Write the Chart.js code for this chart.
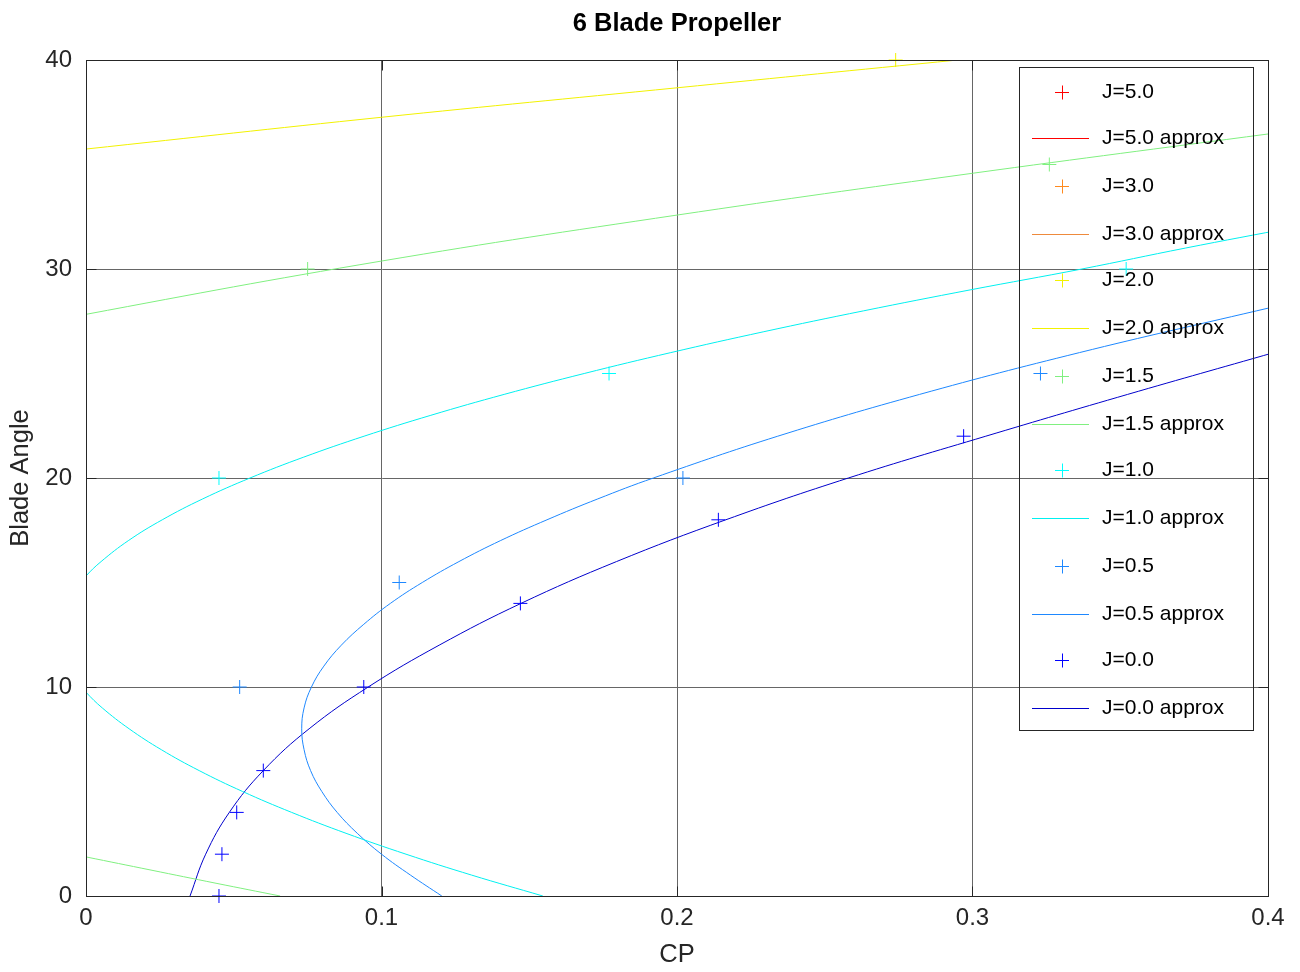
<!DOCTYPE html>
<html>
<head>
<meta charset="utf-8">
<title>6 Blade Propeller</title>
<script src="https://cdn.jsdelivr.net/npm/chart.js@4.4.1/dist/chart.umd.min.js"></script>
<style>
  html, body { margin: 0; padding: 0; background: #fff; }
  #wrap { width: 1300px; height: 972px; }
</style>
</head>
<body>
<div id="wrap"><canvas id="myChart" width="1300" height="972"></canvas></div>
<script>
// measured points (CP vs blade angle) per advance ratio J
var j50Cp = [], j50Angle = []
var j30Cp = [], j30Angle = []
var j20Cp = [0.274], j20Angle = [40]
var j15Cp = [0.075, 0.326], j15Angle = [30, 35]
var j10Cp = [0.045, 0.177, 0.352], j10Angle = [20, 25, 30]
var j05Cp = [0.052, 0.106, 0.202, 0.323], j05Angle = [10, 15, 20, 25]
var j00Cp = [0.045, 0.046, 0.051, 0.060, 0.094, 0.147, 0.214, 0.297]
var j00Angle = [0, 2, 4, 6, 10, 14, 18, 22]

// approximation curves (null = break between branches)
var j50ApproxCp = [], j50ApproxAngle = []
var j30ApproxCp = [], j30ApproxAngle = []
var j20ApproxCp = [-0.02, 0, 0.1, 0.2, 0.295]
var j20ApproxAngle = [35.44, 35.74, 37.26, 38.67, 40]
var j15ApproxCp = [-0.02, 0, 0.022, 0.044, 0.0657, null, -0.05, 0, 0.1, 0.2, 0.3, 0.4]
var j15ApproxAngle = [2.44, 1.87, 1.24, 0.61, 0, null, 26.4, 27.83, 30.38, 32.58, 34.58, 36.46]
var j10ApproxCp = [0.1546, 0.1305, 0.1083, 0.088, 0.0696, 0.053, 0.0383, 0.0255, 0.0146, 0.0055, 0, -0.0045, null,
                   -0.0046, 0, 0.0051, 0.0143, 0.0258, 0.0395, 0.0555, 0.0737, 0.0941, 0.1167, 0.1415,
                   0.1686, 0.1979, 0.2294, 0.2632, 0.2992, 0.337, 0.372, 0.409]
var j10ApproxAngle = [0, 1, 2, 3, 4, 5, 6, 7, 8, 9, 9.75, 10.5, null,
                      14.5, 15.31, 16, 17, 18, 19, 20, 21, 22, 23, 24,
                      25, 26, 27, 28, 29, 30, 31, 32]
var j05ApproxCp = [0.1204, 0.1098, 0.100, 0.0918, 0.085, 0.0798, 0.076, 0.0738, 0.073,
                   0.0738, 0.0763, 0.0805, 0.0864, 0.094, 0.103, 0.1138, 0.1262,
                   0.1402, 0.156, 0.1732, 0.192, 0.2341, 0.2821, 0.3362, 0.3962, 0.4271]
var j05ApproxAngle = [0, 1, 2, 3, 4, 5, 6, 7, 8,
                      9, 10, 11, 12, 13, 14, 15, 16,
                      17, 18, 19, 20, 22, 24, 26, 28, 29]
var j00ApproxCp = [0.0352, 0.0405, 0.0485, 0.060, 0.0755, 0.0955, 0.1195, 0.1472,
                   0.1795, 0.2165, 0.258, 0.3045, 0.3525, 0.402]
var j00ApproxAngle = [0, 2, 4, 6, 8, 10, 12, 14, 16, 18, 20, 22, 24, 26]

var jLabels = ['J=5.0', 'J=3.0', 'J=2.0', 'J=1.5', 'J=1.0', 'J=0.5', 'J=0.0']
var markerColors = ['#ff0000', '#ff8a1e', '#f2f200', '#80f080', '#00ffff', '#1e88ff', '#0000ff']
var lineColors = ['#ff0000', '#ee8a3c', '#f2f200', '#80f080', '#00f0f0', '#1e88ff', '#0000cc']
var xTicks = [0, 0.1, 0.2, 0.3, 0.4]
var yTicks = [0, 10, 20, 30, 40]

var markerCp = [j50Cp, j30Cp, j20Cp, j15Cp, j10Cp, j05Cp, j00Cp]
var markerAngle = [j50Angle, j30Angle, j20Angle, j15Angle, j10Angle, j05Angle, j00Angle]
var approxCp = [j50ApproxCp, j30ApproxCp, j20ApproxCp, j15ApproxCp, j10ApproxCp, j05ApproxCp, j00ApproxCp]
var approxAngle = [j50ApproxAngle, j30ApproxAngle, j20ApproxAngle, j15ApproxAngle, j10ApproxAngle, j05ApproxAngle, j00ApproxAngle]

function toPoints(xs, ys) {
	return xs.map(function(x, i){ return {x: x, y: ys[i]} })
}

var datasets = []
for (var i = 0; i < jLabels.length; i++) {
	datasets.push({
		label: jLabels[i],
		data: toPoints(markerCp[i], markerAngle[i]),
		showLine: false,
		pointStyle: 'cross',
		pointRadius: 7,
		pointHoverRadius: 7,
		pointBorderWidth: 1,
		borderColor: markerColors[i],
		backgroundColor: markerColors[i],
		clip: false
	})
	datasets.push({
		label: jLabels[i] + ' approx',
		data: toPoints(approxCp[i], approxAngle[i]),
		showLine: true,
		pointRadius: 0,
		borderWidth: 1,
		borderColor: lineColors[i],
		backgroundColor: lineColors[i],
		tension: 0.4,
		spanGaps: false
	})
}

var FONT = '"Liberation Sans", Arial, Helvetica, sans-serif'
Chart.defaults.font.family = FONT

// legend box drawn inside the plot area, top right
var legendBox = {
	id: 'legendBox',
	afterDatasetsDraw: function(chart) {
		var c = chart.ctx, a = chart.chartArea
		var x0 = Math.round(a.right) - 249, y0 = Math.round(a.top) + 7
		c.save()
		c.lineWidth = 1
		c.strokeStyle = '#262626'
		c.strokeRect(x0 + 0.5, y0 + 0.5, 234, 663)
		c.font = '21px ' + FONT
		c.textBaseline = 'middle'
		c.fillStyle = '#000'
		chart.data.datasets.forEach(function(ds, i){
			var y = 2 * Math.round((y0 + 24 + i * 47.46) / 2) + 0.5
			c.strokeStyle = ds.borderColor
			c.beginPath()
			if (ds.showLine) {
				c.moveTo(x0 + 13, y); c.lineTo(x0 + 70, y)
			} else {
				c.moveTo(x0 + 36, y); c.lineTo(x0 + 50, y)
				c.moveTo(x0 + 43.5, y - 7); c.lineTo(x0 + 43.5, y + 7)
			}
			c.stroke()
			c.fillText(ds.label, x0 + 83, y)
		})
		c.restore()
	}
}

// full box around plot plus inward tick marks
var frameBox = {
	id: 'frameBox',
	afterDatasetsDraw: function(chart) {
		var c = chart.ctx, a = chart.chartArea
		var l = Math.round(a.left) + 0.5, r = Math.round(a.right) + 0.5
		var t = Math.round(a.top) + 0.5, b = Math.round(a.bottom) + 0.5
		c.save()
		c.strokeStyle = '#262626'
		c.lineWidth = 1
		c.strokeRect(l, t, r - l, b - t)
		c.beginPath()
		xTicks.forEach(function(v){
			var px = Math.round(chart.scales.x.getPixelForValue(v)) + 0.5
			c.moveTo(px, b); c.lineTo(px, b - 10)
			c.moveTo(px, t); c.lineTo(px, t + 10)
		})
		yTicks.forEach(function(v){
			var py = Math.round(chart.scales.y.getPixelForValue(v)) + 0.5
			c.moveTo(l, py); c.lineTo(l + 10, py)
			c.moveTo(r, py); c.lineTo(r - 10, py)
		})
		c.stroke()
		c.restore()
	}
}

var mychart = new Chart(document.getElementById('myChart'), {
	type: 'scatter',
	data: { datasets: datasets },
	plugins: [legendBox, frameBox],
	options: {
		responsive: false,
		animation: false,
		events: [],
		layout: { padding: { right: 32, left: 0, top: 0, bottom: 0 } },
		plugins: {
			legend: { display: false },
			tooltip: { enabled: false },
			title: { display: false }
		},
		scales: {
			x: {
				type: 'linear',
				min: 0, max: 0.4,
				afterFit: function(s){ s.height = 76 },
				afterBuildTicks: function(s){ s.ticks = xTicks.map(function(v){ return {value: v} }) },
				ticks: {
					color: '#262626',
					font: { size: 24 },
					padding: 8,
					maxRotation: 0,
					callback: function(v){ return v === 0 ? '0' : String(+v.toFixed(1)) }
				},
				grid: { color: '#666', lineWidth: 1, drawTicks: false },
				border: { display: true, color: '#262626' },
				title: { display: true, text: 'CP', color: '#262626', font: { size: 25.5 }, padding: { top: 0, bottom: 2 } }
			},
			// top axis only carries the chart title, centred over the plot
			x2: {
				type: 'linear',
				position: 'top',
				min: 0, max: 0.4,
				afterFit: function(s){ s.height = 60 },
				ticks: { display: false },
				grid: { display: false, drawTicks: false },
				border: { display: false },
				title: {
					display: true,
					text: '6 Blade Propeller',
					color: '#000',
					font: { size: 25.5, weight: 'bold' },
					padding: { top: 9, bottom: 0 }
				}
			},
			y: {
				type: 'linear',
				min: 0, max: 40,
				afterFit: function(s){ s.width = 86 },
				afterBuildTicks: function(s){ s.ticks = yTicks.map(function(v){ return {value: v} }) },
				ticks: { color: '#262626', font: { size: 24 }, padding: 14 },
				grid: { color: '#666', lineWidth: 1, drawTicks: false },
				border: { display: true, color: '#262626' },
				title: { display: true, text: 'Blade Angle', color: '#262626', font: { size: 25.5 }, padding: { top: 6, bottom: 0 } }
			}
		}
	}
})
</script>
</body>
</html>
